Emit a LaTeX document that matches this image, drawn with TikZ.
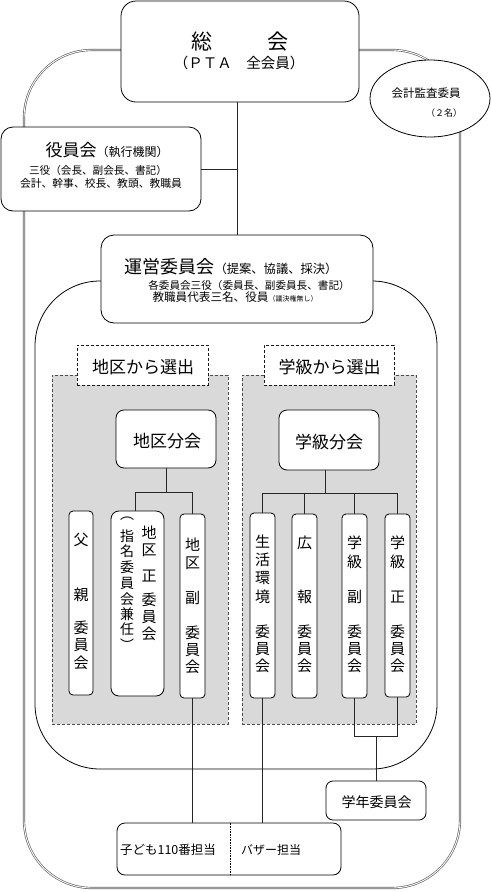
\documentclass[tikz,border=0pt]{standalone}
\usepackage{fontspec}
\setmainfont{Noto Sans CJK JP}
\usetikzlibrary{shapes.geometric,calc}
\newcommand{\fsz}[1]{\fontsize{#1}{#1}\selectfont}
\begin{document}
\begin{tikzpicture}[x=1pt,y=-1pt,
  frame/.style={draw=gray!75!black, double=white, double distance=0.9pt, line width=0.65pt},
  box/.style={draw, fill=white, line width=0.8pt, rounded corners=#1, inner sep=0pt},
  box/.default=12pt,
  area/.style={draw=gray!60!black, fill=gray!30, dash pattern=on 3pt off 2pt, line width=0.6pt, inner sep=0pt},
  lab/.style={draw=gray!20!black, fill=white, dash pattern=on 3pt off 2pt, line width=0.6pt, inner sep=0pt, minimum width=131pt, minimum height=40pt},
  vbox/.style={box=4pt, minimum width=25pt, minimum height=184pt},
  txt/.style={inner sep=0pt},
  vch/.style={inner sep=0pt, font=\fsz{15}},
  conn/.style={line width=0.7pt, draw=black!85},
]
\useasboundingbox (0,0) rectangle (491,892);

% outer double frame
\draw[frame, rounded corners=68pt] (24,50) rectangle (460,888);

% inner region of the steering committee
\draw[line width=0.8pt, rounded corners=65pt] (35,281) rectangle (437,769);

% gray selection areas
\node[area, minimum width=176pt, minimum height=349pt] (chikuArea) at (140,549.5) {};
\node[area, minimum width=174pt, minimum height=349pt] (gakuArea) at (329,549.5) {};
\node[lab] (chikuLab) at (142.5,365) {};
\node[txt, font=\fsz{17}] (chikuLabT) at (143,367) {地区から選出};
\node[lab, minimum width=130pt] (gakuLab) at (329,365) {};
\node[txt, font=\fsz{17}] (gakuLabT) at (329.5,367) {学級から選出};

% main boxes
\node[box=15pt, minimum width=238pt, minimum height=101pt] (soukai) at (240,51.5) {};
\node[txt, font=\fsz{21}] (soukaiT) at (240,42) {総\hspace{55pt}会};
\node[txt, font=\fsz{14.5}] (ptaT) at (239,63) {（ＰＴＡ　全会員）};

\node[draw, ellipse, fill=white, line width=0.8pt, inner sep=0pt, minimum width=120pt, minimum height=77pt] (kansa) at (430,98.5) {};
\node[txt, font=\fsz{11.5}] (kansaT) at (426,93) {会計監査委員};
\node[txt, font=\fsz{9}] (kansaN) at (444,113) {（２名）};

\node[box=12pt, minimum width=200pt, minimum height=84pt] (yakuin) at (101,169) {};
\node[txt] (yakuinT) at (107,150) {{\fsz{17}役員会}{\fsz{12}（執行機関）}};
\node[txt, font=\fsz{10.6}] (yakuinL1) at (98,170) {三役（会長、副会長、書記）};
\node[txt, font=\fsz{10.8}] (yakuinL2) at (101,183) {会計、幹事、校長、教頭、教職員};

\node[box=13pt, minimum width=272pt, minimum height=88pt] (unei) at (237,279) {};
\node[txt] (ueiT) at (231,267) {{\fsz{18}運営委員会}{\fsz{12.3}（提案、協議、採決）}};
\node[txt, font=\fsz{10.6}] (ueiL1) at (249,285) {各委員会三役（委員長、副委員長、書記）};
\node[txt] (ueiL2) at (235,297) {{\fsz{11.6}教職員代表三名、役員}{\fsz{7}（議決権無し）}};

% sub-meetings
\node[box=8pt, minimum width=100pt, minimum height=58pt] (cb) at (166,439) {};
\node[txt, font=\fsz{17}] (cbT) at (167,441) {地区分会};
\node[box=8pt, minimum width=100pt, minimum height=60pt] (gb) at (329,440) {};
\node[txt, font=\fsz{17}] (gbT) at (329,442) {学級分会};

% vertical committee boxes
\node[vbox, minimum width=24pt] (fushin) at (81,603) {};
\node[box=8pt, minimum width=53pt, minimum height=185pt] (chikusei) at (137.5,603.5) {};
\node[vbox] (chikufuku) at (192.5,606) {};
\node[vbox, minimum height=185pt] (seikatsu) at (262.5,605.5) {};
\node[vbox] (kouhou) at (304.5,606) {};
\node[vbox] (gakufuku) at (354.5,606) {};
\node[vbox, minimum height=183pt] (gakusei) at (397.5,605.5) {};

\foreach \c/\y in {父/540,親/595,委/628,員/645,会/663}
  \node[vch] (fu\y) at (81,\y) {\c};
\foreach \c/\y in {地/533,区/550,正/576,委/600,員/617,会/634}
  \node[vch] (cs\y) at (149,\y) {\c};
\foreach \c/\y in {︵/519,指/536,名/551,委/567,員/583,会/599,兼/614,任/629,︶/645}
  \node[vch, font=\fsz{14}] (sm\y) at (127,\y) {\c};
\foreach \c/\y in {地/545,区/563,副/598,委/633,員/650,会/667}
  \node[vch] (cf\y) at (192.5,\y) {\c};
\foreach \c/\y in {生/542,活/560,環/578,境/597,委/632,員/649,会/666}
  \node[vch] (se\y) at (262.5,\y) {\c};
\foreach \c/\y in {広/543,報/597,委/632,員/649,会/666}
  \node[vch] (ko\y) at (304.5,\y) {\c};
\foreach \c/\y in {学/543,級/562,副/597,委/632,員/649,会/666}
  \node[vch] (gf\y) at (354.5,\y) {\c};
\foreach \c/\y in {学/543,級/562,正/597,委/632,員/649,会/666}
  \node[vch] (gs\y) at (397.5,\y) {\c};

% lower boxes
\node[box=7pt, minimum width=100pt, minimum height=39pt] (gakunen) at (376,800.5) {};
\node[txt, font=\fsz{14}] (gakunenT) at (376.5,802) {学年委員会};
\node[box=8pt, minimum width=224pt, minimum height=52pt] (bottom) at (229,849) {};
\coordinate (div) at (230,849);
\draw[densely dotted, line width=0.6pt] (bottom.north -| div) -- (bottom.south -| div);
\node[txt, font=\fsz{12.5}] (kodomoT) at (168,850) {子ども110番担当};
\node[txt, font=\fsz{12}] (bazaT) at (271,850) {バザー担当};

% connectors
\draw[conn] (unei.north |- soukai.south) -- (unei.north);
\draw[conn] (yakuin.east) -- (yakuin.east -| unei.north);

\coordinate (cbj) at (166,492);
\draw[conn] (cb.south) -- (cbj);
\draw[conn] ([xshift=-2.5pt]chikusei.north) |- (chikufuku.north |- cbj) -- (chikufuku.north);

\coordinate (gbj) at (325,493);
\draw[conn] ([xshift=-4pt]gb.south) -- (gbj);
\draw[conn] (seikatsu.north) |- (gakusei.north |- gbj) -- (gakusei.north);
\draw[conn] (kouhou.north) -- (kouhou.north |- gbj);
\draw[conn] (gakufuku.north) -- (gakufuku.north |- gbj);

\draw[conn] (chikufuku.south) -- (chikufuku.south |- bottom.north);
\draw[conn] (seikatsu.south) -- (seikatsu.south |- bottom.north);

\coordinate (gnj) at (376,736);
\draw[conn] (gakufuku.south) |- (gnj) -| (gakusei.south);
\draw[conn] (gnj) -- (gakunen.north);
\end{tikzpicture}
\end{document}
